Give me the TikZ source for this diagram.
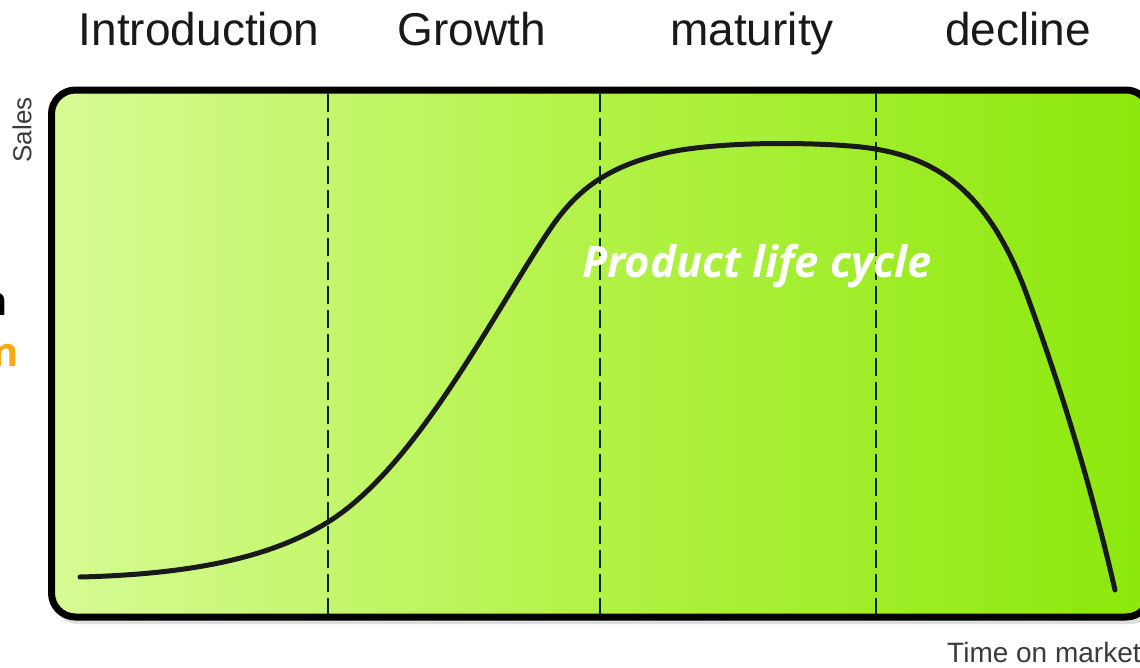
\documentclass[tikz,border=0pt]{standalone}
\usepackage{fontspec}
\setmainfont{Liberation Sans}
\newfontfamily\pfont{Open Sans}
\definecolor{gleft}{RGB}{214,251,148}
\definecolor{gmid}{RGB}{178,242,70}
\definecolor{gright}{RGB}{140,232,12}
\definecolor{lbl}{RGB}{25,25,25}
\definecolor{orng}{RGB}{250,168,20}
\tikzset{
  stage/.style={font=\fontsize{46}{55}\selectfont, text=lbl, inner sep=0pt, anchor=base},
  axislbl/.style={font=\fontsize{26}{30}\selectfont, text=lbl!85, inner sep=0pt},
  divider/.style={line width=1.6pt, draw=black!85!green, dash pattern=on 18pt off 6pt},
  curve/.style={line width=5pt, draw=black!90, line cap=round},
  frame/.style={line width=7pt, draw=black, rounded corners=24pt},
  title/.style={font=\pfont\bfseries\itshape\fontsize{43.5}{52}\selectfont, text=white, inner sep=0pt},
}
\begin{document}
\begin{tikzpicture}[x=1pt,y=-1pt]
\useasboundingbox (0,0) rectangle (1140,667);
\fill[white] (0,0) rectangle (1140,667);
% shadow
\fill[black!25, rounded corners=24pt, opacity=0.5] (54,94) rectangle (1155,624);
% box fill
\shade[rounded corners=24pt, left color=gleft, right color=gright, middle color=gmid] (51.5,90) rectangle (1150,617);
% dividers
\coordinate (d1t) at (328,94); \coordinate (d1b) at (328,614);
\coordinate (d2t) at (600,94); \coordinate (d2b) at (600,614);
\coordinate (d3t) at (876,94); \coordinate (d3b) at (876,614);
\draw[divider] (d1t) -- (d1b);
\draw[divider] (d2t) -- (d2b);
\draw[divider] (d3t) -- (d3b);
% frame
\draw[frame] (51.5,90) rectangle (1150,617);
% curve
\coordinate (cs) at (80,577);
\coordinate (ce) at (1115,590);
\draw[curve] (cs) .. controls (200,574) and (275,555) .. (328,522)
  .. controls (420,465) and (500,300) .. (555,222)
  .. controls (580,188) and (610,165) .. (670,152)
  .. controls (720,142) and (800,142) .. (850,146)
  .. controls (930,152) and (985,185) .. (1025,290)
  .. controls (1062,390) and (1092,490) .. (ce);
% stage labels
\node[stage] (intro) at (199,45) {Introduction};
\node[stage] (growth) at (472,45) {Growth};
\node[stage] (mat) at (752,45) {maturity};
\node[stage] (dec) at (1018,45) {decline};
% axis labels
\node[axislbl, rotate=90] (sales) at (22,130) {Sales};
\node[axislbl, anchor=base west, font=\fontsize{28}{32}\selectfont] (time) at (947,662) {Time on market};
% title
\node[title] (plc) at (757,266) {Product life cycle};
% cut-off fragments at left edge
\node[font=\pfont\bfseries\fontsize{40}{48}\selectfont, text=black, anchor=base east, inner sep=0pt] (fragA) at (7.5,315) {n};
\node[font=\pfont\bfseries\fontsize{40}{48}\selectfont, text=orng, anchor=base east, inner sep=0pt] (fragB) at (18.5,366) {n};
\end{tikzpicture}
\end{document}
